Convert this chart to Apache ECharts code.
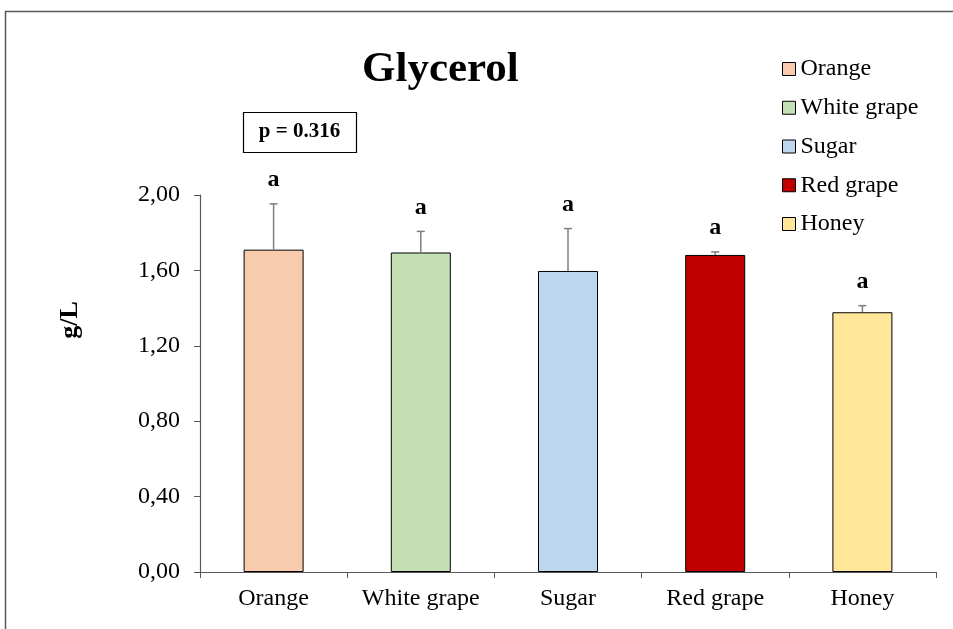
<!DOCTYPE html>
<html><head><meta charset="utf-8">
<script src="https://cdn.jsdelivr.net/npm/echarts@6/dist/echarts.min.js"></script>
<style>html,body{margin:0;padding:0;background:#fff}#c{width:953px;height:629px}</style>
</head><body><div id="c"></div>
<script>
const categories = ['Orange', 'White grape', 'Sugar', 'Red grape', 'Honey'];
const means = [1.71, 1.695, 1.597, 1.682, 1.378];
const errors = [0.243, 0.112, 0.225, 0.016, 0.035];
const letters = ['a', 'a', 'a', 'a', 'a'];
const colors = ['#F8CBAD', '#C5E0B4', '#BDD7EE', '#C00000', '#FFE699'];
const yTicks = { min: 0, max: 2, interval: 0.4 };
const pText = 'p = 0.316';
const yName = 'g/L';

const FONT = '"Liberation Serif", "Times New Roman", serif';
const chart = echarts.init(document.getElementById('c'));

const barSeries = categories.map((name, i) => ({
  name: name,
  type: 'bar',
  barWidth: 60,
  barGap: '-100%',
  itemStyle: { color: colors[i], borderColor: '#000', borderWidth: 1 },
  data: categories.map((_, j) => (j === i ? means[i] : '-')),
  z: 2
}));

const errSeries = {
  type: 'custom',
  data: categories.map((_, i) => [i, means[i], means[i] + errors[i], letters[i]]),
  encode: { x: 0, y: [1, 2] },
  z: 3,
  renderItem: function (params, api) {
    const x = api.value(0);
    const p0 = api.coord([x, api.value(1)]);
    const p1 = api.coord([x, api.value(2)]);
    const cw = 4;
    return {
      type: 'group',
      children: [
        { type: 'line', shape: { x1: p0[0], y1: p0[1], x2: p1[0], y2: p1[1] }, style: { stroke: '#7F7F7F', lineWidth: 1.5 } },
        { type: 'line', shape: { x1: p1[0] - cw, y1: p1[1], x2: p1[0] + cw, y2: p1[1] }, style: { stroke: '#7F7F7F', lineWidth: 1.5 } },
        { type: 'text', style: { x: p1[0], y: p1[1] - 12, text: api.value(3), fill: '#000', font: 'bold 24px ' + FONT, textAlign: 'center', textVerticalAlign: 'bottom' } }
      ]
    };
  }
};

chart.setOption({
  animation: false,
  backgroundColor: '#fff',
  title: {
    text: 'Glycerol',
    left: 357, top: 43,
    textStyle: { fontFamily: FONT, fontWeight: 'bold', fontSize: 43, color: '#000' }
  },
  legend: {
    orient: 'vertical',
    left: 777, top: 52,
    itemGap: 14.75,
    itemWidth: 13, itemHeight: 13,
    icon: 'rect',
    itemStyle: { borderColor: '#000', borderWidth: 1 },
    textStyle: { fontFamily: FONT, fontSize: 24, color: '#000' },
    data: categories
  },
  grid: { left: 200, right: 17, top: 195, bottom: 57 },
  xAxis: {
    type: 'category',
    data: categories,
    axisLine: { lineStyle: { color: '#595959', width: 1.2 } },
    axisTick: { show: true, interval: 0, length: 6, lineStyle: { color: '#595959' } },
    axisLabel: { interval: 0, hideOverlap: false, fontFamily: FONT, fontSize: 24, color: '#000', margin: 15 }
  },
  yAxis: {
    type: 'value',
    min: yTicks.min, max: yTicks.max, interval: yTicks.interval,
    axisLine: { show: true, lineStyle: { color: '#595959', width: 1.2 } },
    axisTick: { show: true, length: 6, lineStyle: { color: '#595959' } },
    splitLine: { show: false },
    axisLabel: { fontFamily: FONT, fontSize: 24, color: '#000', margin: 20,
      formatter: v => v.toFixed(2).replace('.', ',') }
  },
  graphic: [
    { type: 'rect', shape: { x: 5.5, y: 11.5, width: 1000, height: 700 }, style: { fill: 'none', stroke: '#595959', lineWidth: 1.5 }, silent: true, z: -10 },
    { type: 'rect', shape: { x: 243.5, y: 112.5, width: 113, height: 40 }, style: { fill: '#fff', stroke: '#000', lineWidth: 1.2 } },
    { type: 'text', x: 299.5, y: 132, style: { text: pText, font: 'bold 21px ' + FONT, fill: '#000', textAlign: 'center', textVerticalAlign: 'middle' } },
    { type: 'text', x: 70, y: 320, rotation: Math.PI / 2, style: { text: yName, font: 'bold 26px ' + FONT, fill: '#000', textAlign: 'center', textVerticalAlign: 'middle' } }
  ],
  series: barSeries.concat([errSeries])
});
</script></body></html>
